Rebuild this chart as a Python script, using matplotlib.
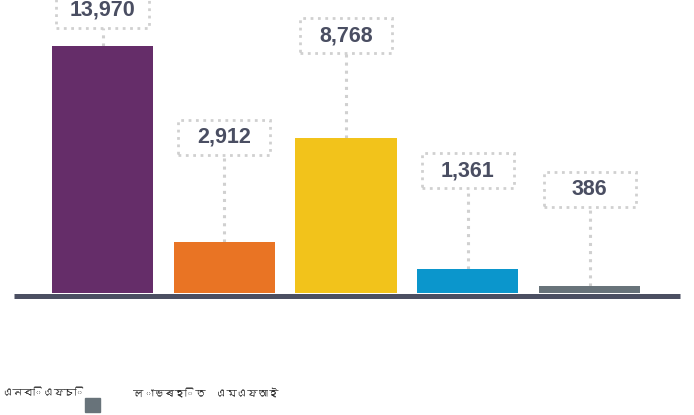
import matplotlib
matplotlib.use("Agg")
import matplotlib.pyplot as plt
from matplotlib.patches import Rectangle
from matplotlib import font_manager, ft2font

# data
values = [13970, 2912, 8768, 1361, 386]
value_labels = ["13,970", "2,912", "8,768", "1,361", "386"]
bar_colors = ["#652d69", "#e97424", "#f2c31b", "#0b96cc", "#68737a"]
legend_labels = ["এনবিএফচি", "লাভৰহিত  এমএফআই"]

# where the callout boxes sit (data units)
label_y = [16000, 8800, 14540, 6900, 5850]


def bengali_font(size):
    # look for any installed font that has bengali glyphs
    for path in font_manager.findSystemFonts():
        try:
            f = ft2font.FT2Font(path)
            if 0x098F in f.get_charmap() and 0x09B2 in f.get_charmap():
                return font_manager.FontProperties(fname=path, size=size)
        except Exception:
            pass
    return font_manager.FontProperties(family="Noto Sans", size=size)


fig = plt.figure(figsize=(6.94, 4.15), dpi=100)
ax = fig.add_axes([14 / 694, 122 / 415, 666 / 694, 293 / 415])

x = list(range(len(values)))
bw = 0.83
ax.bar(x, values, width=bw, color=bar_colors, zorder=3)

box_w = 0.756
box_h = 1980
grey = "#d0d0d0"
for i, v in enumerate(values):
    ax.plot([i, i], [v, label_y[i] - box_h / 2], ls=":", lw=2.2, color=grey,
            zorder=2, clip_on=False)
    ax.add_patch(Rectangle((i - box_w / 2, label_y[i] - box_h / 2), box_w, box_h,
                           fill=False, ls=":", lw=2.0, edgecolor=grey,
                           clip_on=False, zorder=2))
    ax.text(i, label_y[i], value_labels[i], ha="center", va="center",
            fontsize=15.5, fontweight="bold", color="#4a4e62",
            family="Liberation Sans", zorder=4, clip_on=False)

ax.set_xlim(-0.727, 4.743)
ax.set_ylim(0, 16570)
ax.set_xticks([])
ax.set_yticks([])
for s in ["top", "left", "right"]:
    ax.spines[s].set_visible(False)
ax.spines["bottom"].set_position(("outward", 1.8))
ax.spines["bottom"].set_linewidth(3.6)
ax.spines["bottom"].set_color("#4b4f62")
ax.spines["bottom"].set_capstyle("butt")
ax.patch.set_visible(False)

# legend along the bottom
fp = bengali_font(7.5)
fig.text(2 / 694, 1 - 393 / 415, legend_labels[0], fontproperties=fp,
         color="#333333", va="center", ha="left")
fig.patches.append(Rectangle((85 / 694, 3 / 415), 15 / 694, 14 / 415,
                             transform=fig.transFigure, color=bar_colors[4]))
fig.text(133 / 694, 1 - 393 / 415, legend_labels[1], fontproperties=fp,
         color="#333333", va="center", ha="left")

fig.savefig("out.png", dpi=100)
